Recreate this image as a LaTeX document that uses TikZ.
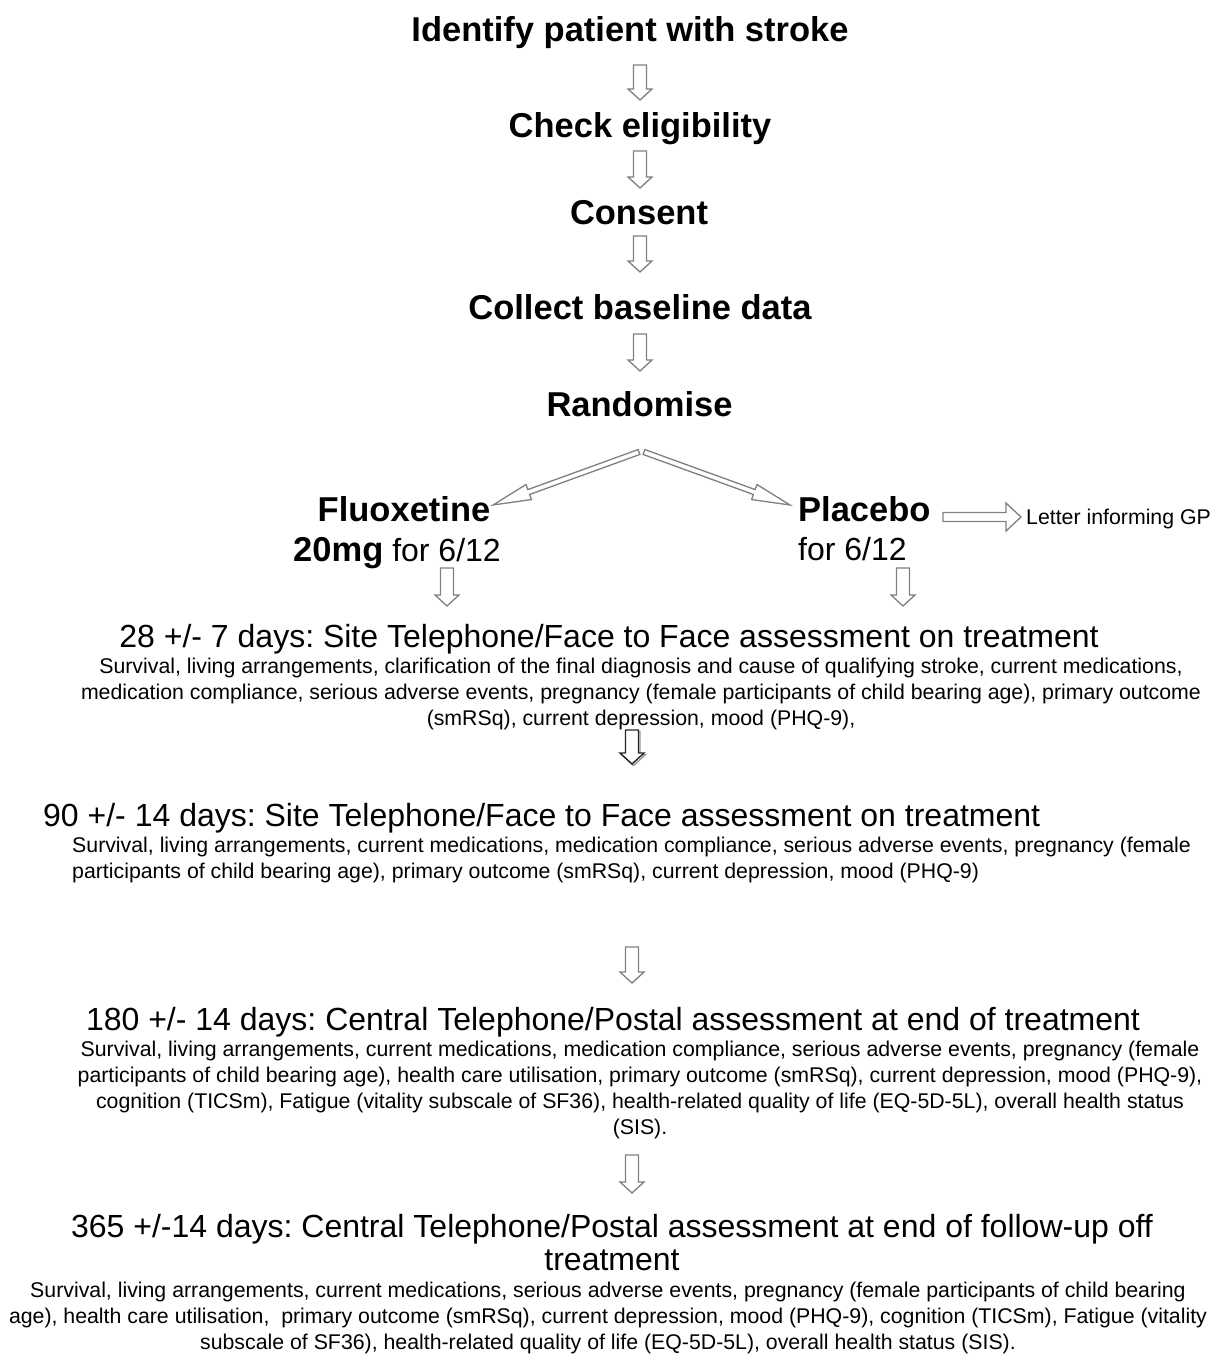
\documentclass[tikz,border=0pt]{standalone}
\usepackage{fontspec}
\setmainfont{Liberation Sans}
\usetikzlibrary{calc}
\frenchspacing

\tikzset{
  steptitle/.style={font=\fontsize{34.5pt}{40pt}\selectfont\bfseries, inner sep=0pt, anchor=base},
  visithead/.style={font=\fontsize{32pt}{33pt}\selectfont, inner sep=0pt, align=center, anchor=base},
  visitbody/.style={font=\fontsize{21.3pt}{26pt}\selectfont, inner sep=0pt, align=center, anchor=north},
  arrowline/.style={draw=black!50, line width=1.3pt, line join=miter, fill=white},
  darkline/.style={draw=black!85, line width=1.4pt, line join=miter, fill=white},
  shadowline/.style={draw=black!40, line width=1.4pt, line join=miter}
}

% hollow block arrow: [style]{from}{to}{shaft half width}{head half width}{head length}
\newcommand{\blockarrow}[6][arrowline]{%
  \coordinate (ahbase) at ($(#3)!#6!(#2)$);
  \draw[#1] ($(#2)!#4!90:(#3)$) -- ($(ahbase)!#4!90:(#3)$) -- ($(ahbase)!#5!90:(#3)$)
    -- (#3) -- ($(ahbase)!#5!-90:(#3)$) -- ($(ahbase)!#4!-90:(#3)$) -- ($(#2)!#4!-90:(#3)$) -- cycle;}

\begin{document}
\begin{tikzpicture}[x=1pt, y=1pt]
  \useasboundingbox (0,0) rectangle (1216,-1356);
  \fill[white] (0,0) rectangle (1216,-1356);

  % Screening steps
  \node[steptitle] (identify) at (630,-42) {Identify patient with stroke};
  \node[steptitle] (elig) at (640,-138) {Check eligibility};
  \node[steptitle] (consent) at (639,-225) {Consent};
  \node[steptitle] (baseline) at (640,-319) {Collect baseline data};
  \node[steptitle] (rand) at (639.5,-416) {Randomise};

  \coordinate (a1s) at (640,-65);   \coordinate (a1e) at (640,-100);
  \coordinate (a2s) at (640,-151);  \coordinate (a2e) at (640,-188);
  \coordinate (a3s) at (640,-236);  \coordinate (a3e) at (640,-272);
  \coordinate (a4s) at (640,-334);  \coordinate (a4e) at (640,-371);
  \blockarrow{a1s}{a1e}{6.5pt}{12pt}{11pt}
  \blockarrow{a2s}{a2e}{6.5pt}{12pt}{11pt}
  \blockarrow{a3s}{a3e}{6.5pt}{12pt}{11pt}
  \blockarrow{a4s}{a4e}{6.5pt}{12pt}{11pt}

  % Treatment arms
  \node[steptitle] (fluox) at (404,-521) {Fluoxetine};
  \node[visithead] (fluoxdose) at (397,-561) {{\fontsize{34.5pt}{40pt}\selectfont\bfseries 20mg} for 6/12};
  \node[steptitle, anchor=base west] (placebo) at (798,-521) {Placebo};
  \node[visithead, anchor=base west] (placebodose) at (798,-560) {for 6/12};
  \node[font=\fontsize{21.3pt}{26pt}\selectfont, inner sep=0pt, anchor=base west] (letter) at (1026,-524) {Letter informing GP};

  \coordinate (rl) at (639,-452);  \coordinate (rr) at (644,-452);
  \coordinate (fl) at (493,-505);  \coordinate (pl) at (790,-505);
  \blockarrow{rl}{fl}{2.6pt}{8pt}{38pt}
  \blockarrow{rr}{pl}{2.6pt}{8pt}{38pt}
  \coordinate (gps) at (943,-517); \coordinate (gpe) at (1021,-517);
  \blockarrow{gps}{gpe}{4.5pt}{14pt}{15pt}

  \coordinate (f1s) at (447,-568); \coordinate (f1e) at (447,-606);
  \coordinate (p1s) at (903,-568); \coordinate (p1e) at (903,-606);
  \blockarrow{f1s}{f1e}{6.5pt}{12pt}{11pt}
  \blockarrow{p1s}{p1e}{6.5pt}{12pt}{11pt}

  % 28 day visit
  \node[visithead] (d28) at (609,-647.5) {28 +/- 7 days: Site Telephone/Face to Face assessment on treatment};
  \node[visitbody] (d28text) at (641,-658) {Survival, living arrangements, clarification of the final diagnosis and cause of qualifying stroke, current medications,\\
    medication compliance, serious adverse events, pregnancy (female participants of child bearing age), primary outcome\\
    (smRSq), current depression, mood (PHQ-9),};

  \coordinate (b1s) at (632,-730); \coordinate (b1e) at (632,-764);
  \coordinate (b1ss) at (633.5,-731.5); \coordinate (b1se) at (633.5,-765.5);
  \blockarrow[shadowline]{b1ss}{b1se}{6.5pt}{12pt}{11pt}
  \blockarrow[darkline]{b1s}{b1e}{6.5pt}{12pt}{11pt}

  % 90 day visit
  \node[visithead, anchor=base west] (d90) at (43,-826.5) {90 +/- 14 days: Site Telephone/Face to Face assessment on treatment};
  \node[visitbody, align=left, anchor=north west] (d90text) at (72,-837) {Survival, living arrangements, current medications, medication compliance, serious adverse events, pregnancy (female\\
    participants of child bearing age), primary outcome (smRSq), current depression, mood (PHQ-9)};

  \coordinate (b2s) at (632,-947); \coordinate (b2e) at (632,-983);
  \blockarrow{b2s}{b2e}{6.5pt}{12pt}{11pt}

  % 180 day visit
  \node[visithead] (d180) at (613,-1030.5) {180 +/- 14 days: Central Telephone/Postal assessment at end of treatment};
  \node[visitbody] (d180text) at (640,-1041) {Survival, living arrangements, current medications, medication compliance, serious adverse events, pregnancy (female\\
    participants of child bearing age), health care utilisation, primary outcome (smRSq), current depression, mood (PHQ-9),\\
    cognition (TICSm), Fatigue (vitality subscale of SF36), health-related quality of life (EQ-5D-5L), overall health status\\
    (SIS).};

  \coordinate (b3s) at (632,-1155); \coordinate (b3e) at (632,-1193);
  \blockarrow{b3s}{b3e}{6.5pt}{12pt}{11pt}

  % 365 day visit
  \node[visithead, anchor=north] (d365) at (612,-1214) {365 +/-14 days: Central Telephone/Postal assessment at end of follow-up off\\ treatment};
  \node[visitbody] (d365text) at (608,-1282) {Survival, living arrangements, current medications, serious adverse events, pregnancy (female participants of child bearing\\
    age), health care utilisation,\ \ primary outcome (smRSq), current depression, mood (PHQ-9), cognition (TICSm), Fatigue (vitality\\
    subscale of SF36), health-related quality of life (EQ-5D-5L), overall health status (SIS).};
\end{tikzpicture}
\end{document}
